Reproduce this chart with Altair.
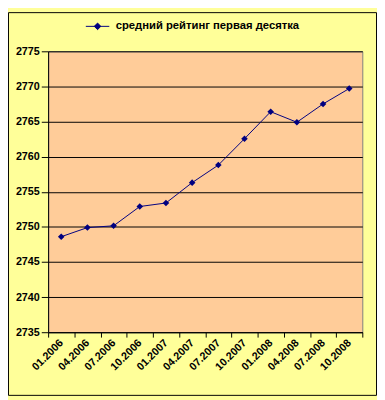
import altair as alt
import pandas as pd

periods = ["01.2006", "04.2006", "07.2006", "10.2006", "01.2007", "04.2007",
           "07.2007", "10.2007", "01.2008", "04.2008", "07.2008", "10.2008"]
rating = [2748.6, 2749.9, 2750.15, 2752.9, 2753.4, 2756.3,
          2758.8, 2762.55, 2766.4, 2764.9, 2767.5, 2769.7]
series_name = "средний рейтинг первая десятка"
y_ticks = [2735, 2740, 2745, 2750, 2755, 2760, 2765, 2770, 2775]

df = pd.DataFrame({"period": periods, "rating": rating, "series": series_name})

FONT = "Liberation Sans"
NAVY = "#000080"

x = alt.X("period:N", sort=periods, title=None,
          scale=alt.Scale(paddingInner=0, paddingOuter=0),
          axis=alt.Axis(labelAngle=-45, labelAlign="right", labelBaseline="middle",
                        tickBand="extent", tickSize=5, labelPadding=4,
                        labelFont=FONT, labelFontSize=11, labelFontWeight="bold",
                        labelColor="black", domainColor="black", tickColor="black",
                        grid=False))
y = alt.Y("rating:Q", title=None,
          scale=alt.Scale(domain=[2735, 2775], nice=False, zero=False),
          axis=alt.Axis(values=y_ticks, format="d", tickSize=7, labelPadding=2,
                        labelFont=FONT, labelFontSize=11, labelFontWeight="bold",
                        labelColor="black", domainColor="black", tickColor="black",
                        grid=True, gridColor="black", gridWidth=1, gridOpacity=1))
color = alt.Color("series:N", title=None,
                  scale=alt.Scale(domain=[series_name], range=[NAVY]),
                  legend=alt.Legend(orient="none", legendX=38, legendY=-38,
                                    symbolType="M-1,0H1M-0.28,0L0,-0.28L0.28,0L0,0.28Z",
                                    symbolSize=576, symbolFillColor=NAVY,
                                    symbolStrokeColor=NAVY, symbolStrokeWidth=1,
                                    labelFont=FONT, labelFontSize=11.5,
                                    labelFontWeight="bold", labelColor="black",
                                    labelOffset=6, labelLimit=0, padding=0))

line = alt.Chart(df).mark_line(strokeWidth=1).encode(x=x, y=y, color=color)
pts = alt.Chart(df).mark_point(shape="diamond", filled=True, size=45, opacity=1).encode(
    x=x, y=y, color=alt.Color("series:N", scale=alt.Scale(domain=[series_name], range=[NAVY]), legend=None))

border = alt.Chart(alt.Data(values=[{"a": 1}])).mark_rect(
    filled=False, stroke="black", strokeWidth=1, clip=False).encode(
    x=alt.value(-40.5), x2=alt.value(335.5), y=alt.value(-39.5), y2=alt.value(351.5))

chart = alt.layer(line, pts, border).properties(
    width=321, height=287,
    background="#FFFF99",
    padding={"left": 41, "top": 40, "right": 15, "bottom": 65},
    autosize=alt.AutoSizeParams(type="none"),
).configure_view(fill="#FFCC99", stroke="#808080", strokeWidth=1)

chart.save("out.html", embed_options={"renderer": "svg", "actions": False})
